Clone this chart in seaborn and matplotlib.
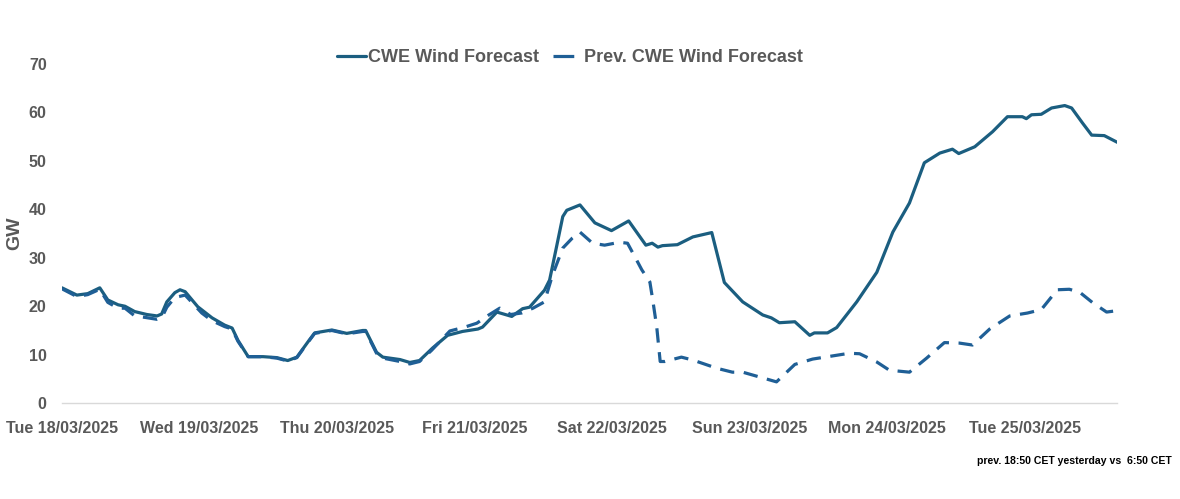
import matplotlib
matplotlib.use('Agg')
import pandas as pd
import seaborn as sns
import matplotlib.pyplot as plt
import matplotlib.dates as mdates
from matplotlib.lines import Line2D

# --- Data (hours after Tue 18/03/2025 00:00, GW) ---
start = pd.Timestamp('2025-03-18 00:00')

cur_hours = [0, 2.6, 4.5, 6.6, 8.0, 9.8, 11.0, 12.7, 14.8, 16.6, 17.4, 18.3, 19.7, 20.6, 21.5,
             23.7, 26.2, 28.4, 29.7, 30.7, 32.5, 35.1, 37.5, 39.4, 41.0, 42.9, 44.1, 47.1,
             49.7, 52.5, 53.0, 54.9, 56.0, 59.0, 60.7, 62.4, 64.7, 67.3, 69.9, 72.6, 73.4,
             75.9, 78.5, 80.4, 81.6, 84.2, 85.1, 86.3, 87.4, 88.1, 90.4, 93.0, 95.9, 98.9,
             101.9, 103.0, 104.0, 104.8, 107.4, 110.1, 113.4, 115.6, 118.8, 122.3, 123.8,
             125.2, 127.9, 130.5, 131.3, 133.6, 135.2, 138.7, 142.2, 145.0, 147.9, 150.5,
             153.2, 155.4, 156.5, 159.3, 162.4, 165.0, 167.6, 168.3, 169.2, 170.9, 172.7,
             175.0, 176.2, 178.1, 179.7, 181.9, 184.2]
cur_gw = [23.8, 22.3, 22.6, 23.8, 21.3, 20.3, 20.0, 18.9, 18.3, 18.0, 18.4, 20.9, 22.8, 23.4, 23.0,
          19.9, 17.6, 16.1, 15.5, 13.0, 9.6, 9.6, 9.4, 8.8, 9.5, 12.6, 14.5, 15.1,
          14.4, 15.0, 15.0, 10.5, 9.5, 9.0, 8.4, 8.8, 11.4, 14.0, 14.8, 15.3, 15.7,
          18.8, 17.9, 19.5, 19.8, 23.3, 25.4, 32.2, 38.5, 39.8, 40.9, 37.2, 35.6, 37.6,
          32.6, 33.0, 32.2, 32.5, 32.7, 34.3, 35.2, 24.9, 20.9, 18.2, 17.6,
          16.6, 16.8, 14.0, 14.5, 14.5, 15.6, 20.9, 27.0, 35.3, 41.3, 49.6,
          51.6, 52.4, 51.5, 52.9, 56.0, 59.1, 59.1, 58.7, 59.5, 59.6, 60.9,
          61.4, 60.9, 57.8, 55.3, 55.2, 53.8]

prev_hours = [0, 2.6, 4.5, 6.6, 8.0, 9.8, 11.0, 12.7, 14.5, 16.6, 17.4, 18.3, 19.7, 21.5, 24.4,
              26.2, 28.4, 29.7, 30.7, 32.5, 35.1, 37.5, 39.4, 41.0, 42.9, 44.1, 47.1, 49.7,
              52.5, 53.0, 54.9, 56.0, 59.0, 60.7, 62.4, 64.5, 67.7, 70.3, 72.4, 74.5, 76.4,
              78.3, 80.2, 82.2, 84.2, 85.6, 87.4, 89.1, 90.4, 92.6, 94.7, 97.3, 98.7, 100.3,
              101.2, 102.6, 103.1, 103.8, 104.4, 105.2, 108.1, 110.1, 114.3, 117.0, 118.8,
              124.7, 127.9, 131.0, 137.4, 139.2, 142.2, 144.4, 147.9, 150.9, 154.0, 156.6,
              158.9, 161.9, 165.4, 168.5, 170.9, 173.7, 175.8, 177.6, 179.8, 182.3, 184.2]
prev_gw = [23.6, 22.0, 22.4, 23.5, 20.8, 19.6, 19.6, 18.0, 17.7, 17.3, 17.6, 19.8, 21.8, 22.3, 18.6,
           17.0, 15.8, 15.3, 12.8, 9.6, 9.6, 9.3, 8.7, 9.4, 12.5, 14.4, 15.0, 14.3,
           14.8, 14.8, 10.3, 9.3, 8.6, 8.1, 8.6, 10.9, 14.9, 15.7, 16.5, 18.2, 19.6,
           18.3, 18.6, 19.6, 20.9, 26.4, 32.0, 34.1, 35.3, 33.0, 32.6, 33.2, 33.0, 29.5,
           27.5, 25.0, 21.3, 15.7, 8.6, 8.6, 9.5, 8.9, 7.2, 6.4, 6.4,
           4.4, 8.0, 9.1, 10.3, 10.2, 8.5, 6.8, 6.4, 9.3, 12.5, 12.4,
           12.0, 15.3, 18.0, 18.6, 19.3, 23.4, 23.5, 22.9, 20.8, 18.8, 19.1]

series_names = ['CWE Wind Forecast', 'Prev. CWE Wind Forecast']
line_colors = ['#1b5e80', '#1f5f96']

df = pd.concat([
    pd.DataFrame({'time': start + pd.to_timedelta(cur_hours, unit='h'), 'GW': cur_gw, 'series': series_names[0]}),
    pd.DataFrame({'time': start + pd.to_timedelta(prev_hours, unit='h'), 'GW': prev_gw, 'series': series_names[1]}),
])

# --- Styling ---
sns.set_style("white")
plt.rcParams['font.family'] = ['Liberation Sans', 'DejaVu Sans']
grey = '#595959'

fig = plt.figure(figsize=(11.8, 4.99), dpi=100)
ax = fig.add_axes([0.0525, 0.192, 0.8945, 0.680])

for i, (name, col) in enumerate(zip(series_names, line_colors)):
    sub = df[df['series'] == name]
    sns.lineplot(data=sub, x='time', y='GW', ax=ax, color=col, linewidth=2.3,
                 estimator=None, sort=True, legend=False)
    if i == 1:
        ax.lines[-1].set_dashes((4.5, 3))

ax.set_xlim(start, start + pd.Timedelta(hours=184.2))
ax.set_ylim(0, 70)
ax.set_yticks(range(0, 71, 10))
ax.xaxis.set_major_locator(mdates.DayLocator())
ax.xaxis.set_major_formatter(mdates.DateFormatter('%a %d/%m/%Y'))
ax.tick_params(axis='x', length=0, labelsize=11.5, labelcolor=grey, pad=12.5)
ax.tick_params(axis='y', length=0, labelsize=11.5, labelcolor=grey, pad=11)
for lbl in ax.get_xticklabels() + ax.get_yticklabels():
    lbl.set_fontweight('bold')

ax.set_xlabel('')
ax.set_ylabel('GW', fontsize=14, fontweight='bold', color=grey, labelpad=4)

for side in ['top', 'right', 'left']:
    ax.spines[side].set_visible(False)
ax.spines['bottom'].set_color('#d9d9d9')
ax.spines['bottom'].set_linewidth(1)

handles = [Line2D([], [], color=line_colors[0], linewidth=2.3),
           Line2D([], [], color=line_colors[1], linewidth=2.3, dashes=(6.5, 20))]
leg = ax.legend(handles, series_names, loc='center', bbox_to_anchor=(0.483, 0.885),
                bbox_transform=fig.transFigure, ncol=2, frameon=False, handlelength=1.65,
                handletextpad=0.1, columnspacing=0.75, prop={'weight': 'bold', 'size': 13})
for t in leg.get_texts():
    t.set_color(grey)

fig.text(0.993, 0.077, 'prev. 18:50 CET yesterday vs  6:50 CET', ha='right', va='center',
         fontsize=7.6, fontweight='bold', color='black')

fig.savefig('out.png', dpi=100)
